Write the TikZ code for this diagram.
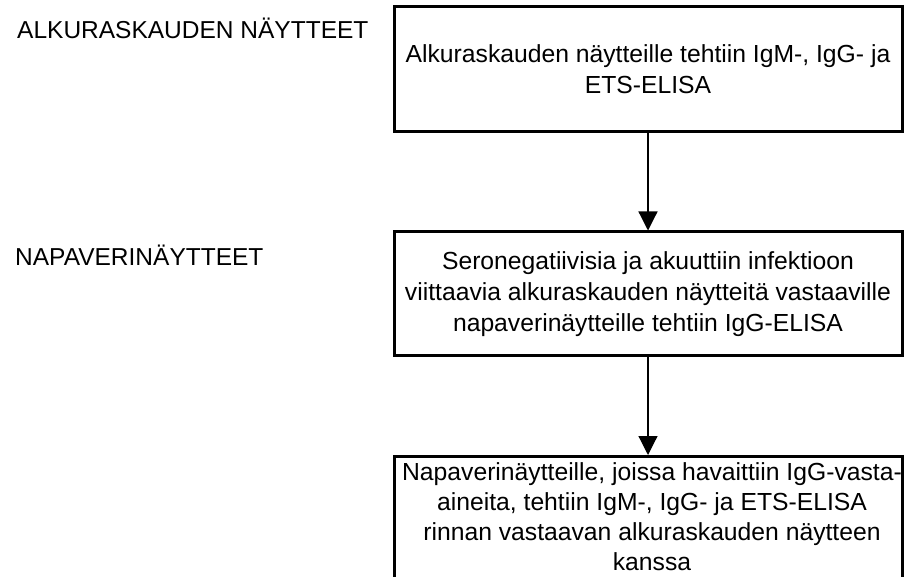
\documentclass[tikz,border=0pt]{standalone}
\usepackage{fontspec}
\setmainfont{Liberation Sans}
\usetikzlibrary{arrows.meta}
\begin{document}
\begin{tikzpicture}[x=1pt,y=-1pt,
  stagebox/.style={draw=black, line width=3pt, minimum width=508pt, align=center,
    font=\fontsize{24.7}{31}\selectfont, inner sep=4pt},
  boxtext/.style={align=center, inner sep=0pt, font=\fontsize{24.7}{30}\selectfont},
  sidelabel/.style={anchor=base west, inner sep=0pt, font=\fontsize{24.5}{28}\selectfont},
  flow/.style={line width=1.2pt, -{Triangle[width=19pt,length=19pt]}}]
\useasboundingbox (0,0) rectangle (908,577);
\clip (0,0) rectangle (908,577);
% stage labels on the left
\node[sidelabel] (l1) at (17,39) {ALKURASKAUDEN NÄYTTEET};
\node[sidelabel] (l2) at (15,266) {NAPAVERINÄYTTEET};
% process boxes
\node[stagebox, minimum height=125pt] (b1) at (648,69.5)
  {Alkuraskauden näytteille tehtiin IgM-, IgG- ja\\ETS-ELISA};
\node[stagebox, minimum height=124pt] (b2) at (648,294)
  {Seronegatiivisia ja akuuttiin infektioon\\viittaavia alkuraskauden näytteitä vastaaville\\napaverinäytteille tehtiin IgG-ELISA};
% the last box runs on past the lower edge
\node[stagebox, anchor=north, minimum height=150pt] (b3) at (648,455) {};
% multi-line text: its base anchor sits on the last line
\node[boxtext, anchor=base] (t3) at (652,570)
  {Napaverinäytteille, joissa havaittiin IgG-vasta-\\aineita, tehtiin IgM-, IgG- ja ETS-ELISA\\rinnan vastaavan alkuraskauden näytteen\\kanssa};
% connectors
\draw[flow] (b1.south) -- (b2.north);
\draw[flow] (b2.south) -- (b3.north);
\end{tikzpicture}
\end{document}
